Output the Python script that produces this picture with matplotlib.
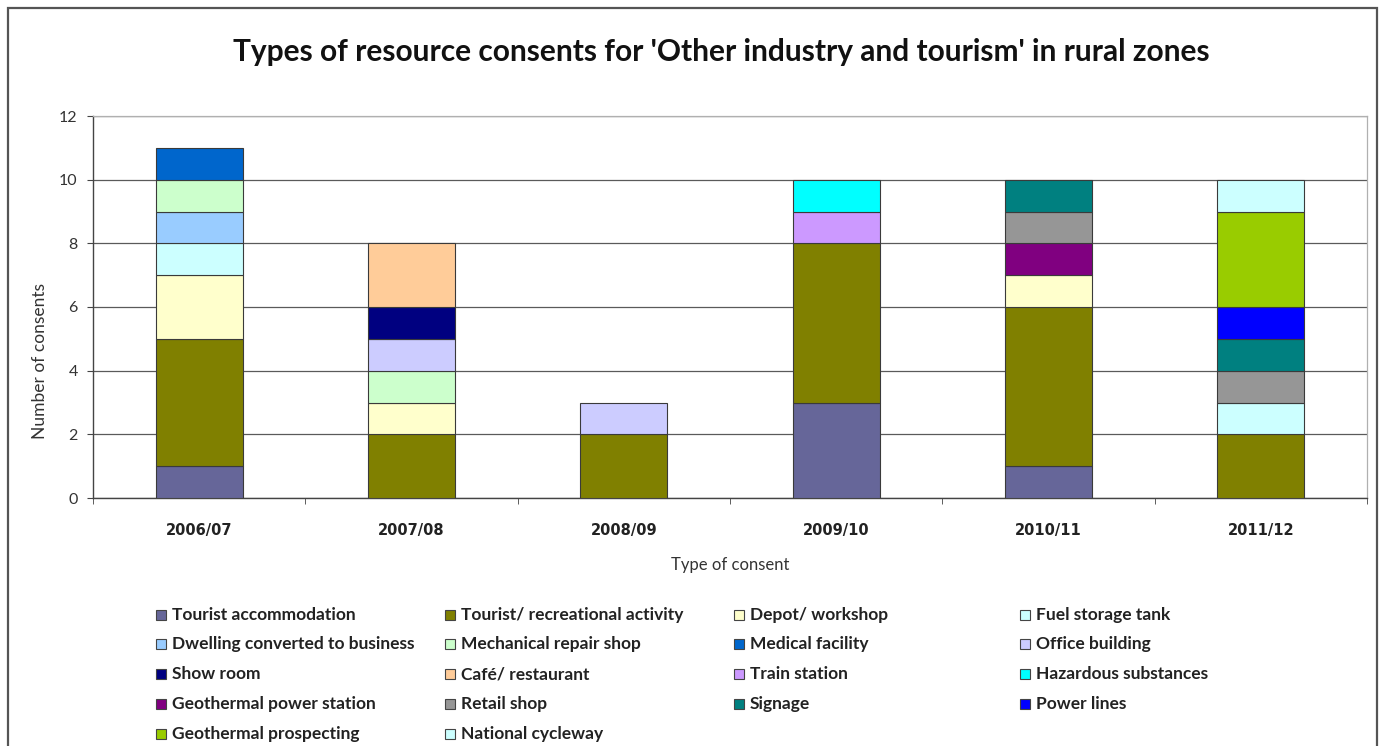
import matplotlib
matplotlib.use("Agg")
import matplotlib.pyplot as plt
from matplotlib.patches import Rectangle
import numpy as np

plt.rcParams['font.family'] = ['Lato', 'DejaVu Sans']

years = ["2006/07", "2007/08", "2008/09", "2009/10", "2010/11", "2011/12"]

series_names = [
    "Tourist accommodation", "Tourist/ recreational activity", "Depot/ workshop",
    "Fuel storage tank", "Dwelling converted to business", "Mechanical repair shop",
    "Medical facility", "Office building", "Show room", "Café/ restaurant",
    "Train station", "Hazardous substances", "Geothermal power station",
    "Retail shop", "Signage", "Power lines", "Geothermal prospecting",
    "National cycleway",
]

tourist_accommodation = [1, 0, 0, 3, 1, 0]
tourist_recreational = [4, 2, 2, 5, 5, 2]
depot_workshop = [2, 1, 0, 0, 1, 0]
fuel_storage_tank = [1, 0, 0, 0, 0, 1]
dwelling_converted = [1, 0, 0, 0, 0, 0]
mechanical_repair = [1, 1, 0, 0, 0, 0]
medical_facility = [1, 0, 0, 0, 0, 0]
office_building = [0, 1, 1, 0, 0, 0]
show_room = [0, 1, 0, 0, 0, 0]
cafe_restaurant = [0, 2, 0, 0, 0, 0]
train_station = [0, 0, 0, 1, 0, 0]
hazardous_substances = [0, 0, 0, 1, 0, 0]
geothermal_power = [0, 0, 0, 0, 1, 0]
retail_shop = [0, 0, 0, 0, 1, 1]
signage = [0, 0, 0, 0, 1, 1]
power_lines = [0, 0, 0, 0, 0, 1]
geothermal_prospecting = [0, 0, 0, 0, 0, 3]
national_cycleway = [0, 0, 0, 0, 0, 1]

series_values = [
    tourist_accommodation, tourist_recreational, depot_workshop, fuel_storage_tank,
    dwelling_converted, mechanical_repair, medical_facility, office_building,
    show_room, cafe_restaurant, train_station, hazardous_substances,
    geothermal_power, retail_shop, signage, power_lines, geothermal_prospecting,
    national_cycleway,
]

colors = [
    "#666699", "#808000", "#FFFFCC", "#CCFFFF", "#99CCFF", "#CCFFCC",
    "#0066CC", "#CCCCFF", "#000080", "#FFCC99", "#CC99FF", "#00FFFF",
    "#800080", "#969696", "#008080", "#0000FF", "#99CC00", "#CCFFFF",
]

W, H = 1383, 746
fig = plt.figure(figsize=(W / 100, H / 100), dpi=100)

# outer frame of the chart
fig.add_artist(Rectangle((8 / W, -0.01), (1377 - 8) / W, (H - 8) / H + 0.01,
                         transform=fig.transFigure, fill=False,
                         edgecolor="#555555", linewidth=1.6))

ax = fig.add_axes([93 / W, (H - 498) / H, (1367 - 93) / W, (498 - 116) / H])

x = np.arange(len(years))
bottom = np.zeros(len(years))
for vals, col in zip(series_values, colors):
    vals = np.array(vals, dtype=float)
    nz = vals > 0
    ax.bar(x[nz], vals[nz], width=0.41, bottom=bottom[nz], color=col,
           edgecolor="#3a3a3a", linewidth=0.8, zorder=3)
    bottom += vals

ax.set_xlim(-0.5, len(years) - 0.5)
ax.set_ylim(0, 12)
ax.set_yticks(range(0, 13, 2))
ax.yaxis.grid(True, color="#5a5a5a", linewidth=0.9, zorder=0)
ax.set_axisbelow(True)

ax.set_xticks(x)
ax.set_xticklabels(years, fontsize=10.5, fontweight="bold", color="#222222",
                   family="DejaVu Sans")
ax.set_xticks(np.arange(-0.5, len(years) + 0.5, 1), minor=True)
ax.tick_params(axis="x", which="major", length=0, pad=18)
ax.tick_params(axis="x", which="minor", length=4, color="#444444", direction="out")
ax.tick_params(axis="y", length=4, color="#444444", labelsize=11.5,
               labelcolor="#333333", pad=7)

for side in ("top", "right"):
    ax.spines[side].set_color("#b0b0b0")
    ax.spines[side].set_linewidth(0.9)
for side in ("left", "bottom"):
    ax.spines[side].set_color("#444444")
    ax.spines[side].set_linewidth(1.0)

ax.set_xlabel("Type of consent", fontsize=12, color="#333333", labelpad=14)

fig.text(40 / W, 1 - 361 / H, "Number of consents", rotation=90,
         ha="center", va="center", fontsize=12.5, color="#333333")

fig.text(721 / W, 1 - 52 / H,
         "Types of resource consents for 'Other industry and tourism' in rural zones",
         ha="center", va="center", fontsize=21.5, fontweight="bold", color="#111111")

# legend laid out row by row in four columns
col_x = [156, 445, 734, 1020]
row_y = [615, 644, 674, 704, 734]
box = 10
for i, (name, col) in enumerate(zip(series_names, colors)):
    r, c = divmod(i, 4)
    cx, cy = col_x[c], row_y[r]
    fig.add_artist(Rectangle((cx / W, 1 - (cy + box / 2) / H), box / W, box / H,
                             transform=fig.transFigure, facecolor=col,
                             edgecolor="#444444", linewidth=0.8))
    fig.text((cx + box + 6) / W, 1 - cy / H, name, ha="left", va="center",
             fontsize=12.5, fontweight="bold", color="#222222")

fig.savefig("out.png", dpi=100, facecolor="white")
